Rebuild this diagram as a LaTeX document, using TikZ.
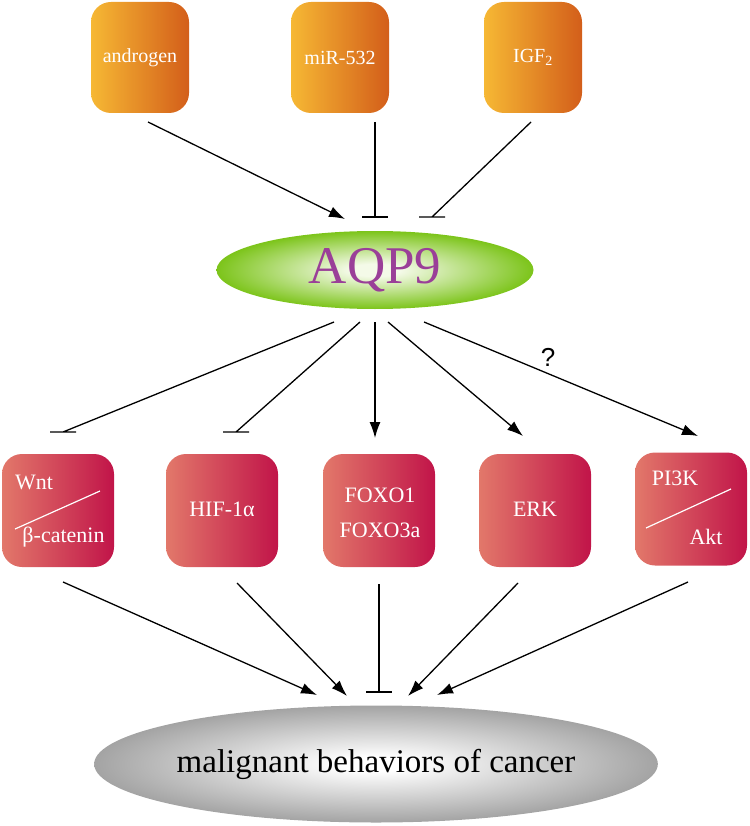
\documentclass[tikz,border=0pt]{standalone}
\usepackage{fontspec}
\setmainfont{Liberation Serif}
\newfontfamily\qfont{Liberation Sans}
\usepackage{tikz}
\usetikzlibrary{arrows.meta,shapes.geometric}

\definecolor{srcleft}{HTML}{F6B834}
\definecolor{srcright}{HTML}{D35E1A}
\definecolor{sigleft}{HTML}{E2786A}
\definecolor{sigright}{HTML}{C11449}
\definecolor{aqpin}{HTML}{F4FAE8}
\definecolor{aqpout}{HTML}{7CC41A}
\definecolor{aqptext}{HTML}{9A3F98}
\definecolor{cancout}{HTML}{7E7E7E}

\pgfdeclareradialshading{aqpglow}{\pgfpoint{0bp}{0bp}}{color(0bp)=(aqpin); color(4bp)=(aqpin); color(25bp)=(aqpout); color(50bp)=(aqpout)}
\pgfdeclareradialshading{cancglow}{\pgfpoint{0bp}{0bp}}{color(0bp)=(white); color(3bp)=(white); color(34bp)=(cancout); color(50bp)=(cancout)}

\tikzset{
  srcbox/.style={rounded corners=20pt, minimum width=98pt, minimum height=111pt,
    left color=srcleft, right color=srcright, draw=none},
  sigbox/.style={rounded corners=20pt, minimum width=112pt, minimum height=113pt,
    left color=sigleft, right color=sigright, draw=none},
  srctxt/.style={text=white, font=\fontsize{20}{24}\selectfont, inner sep=0pt},
  sigtxt/.style={text=white, font=\fontsize{22}{26}\selectfont, inner sep=0pt},
  act/.style={-{Latex[length=16pt,width=11pt]}, line width=1.3pt},
  inh/.style={line width=1.3pt},
}

\begin{document}
\begin{tikzpicture}[x=1pt,y=-1pt]
\useasboundingbox (0,0) rectangle (749,826);

% top row
\node[srcbox] (andro) at (140,57.5) {};
\node[srcbox] (mir) at (340,57.5) {};
\node[srcbox] (igf) at (533,57.5) {};
\node[srctxt] (androtxt) at (140,57.5) {androgen};
\node[srctxt] (mirtxt) at (340,57.5) {miR-532};
\node[srctxt] (igftxt) at (533,57.5) {IGF\textsubscript{2}};

% AQP9
\node[ellipse, minimum width=317pt, minimum height=78pt, shading=aqpglow,
  text=aqptext, font=\fontsize{53}{60}\selectfont, inner sep=0pt] (aqp) at (375,270) {AQP9};

% middle row
\node[sigbox] (wnt) at (58,510.5) {};
\node[sigbox] (hif) at (222,510.5) {};
\node[sigbox] (foxo) at (379,510.5) {};
\node[sigbox] (erk) at (535,510.5) {};
\node[sigbox] (pik) at (691,509) {};
\node[sigtxt] (wnttxt) at (34,482) {Wnt};
\node[sigtxt] (catxt) at (63.5,537) {β-catenin};
\draw[white, line width=1.2pt] (15,529) -- (100,491);
\node[sigtxt] (hiftxt) at (222,509) {HIF-1α};
\node[sigtxt] (foxotxt) at (380,495) {FOXO1};
\node[sigtxt] (foxotxtb) at (380,530) {FOXO3a};
\node[sigtxt] (erktxt) at (535,509) {ERK};
\node[sigtxt] (piktxt) at (675,478) {PI3K};
\node[sigtxt] (akttxt) at (706,537) {Akt};
\draw[white, line width=1.2pt] (646,528) -- (731,489);

% cancer
\node[ellipse, minimum width=482pt, minimum height=117pt, shading=cancglow,
  font=\fontsize{33}{40}\selectfont, inner sep=0pt] (canc) at (376,764) {malignant behaviors of cancer};

% connector ends
\coordinate (andro-o) at (148,122);
\coordinate (mir-o) at (375,122);
\coordinate (igf-o) at (531,122);
\coordinate (aqp-i1) at (345,219);
\coordinate (aqp-i2) at (375,217);
\coordinate (aqp-i3) at (432,217);
\coordinate (aqp-o1) at (334,322);
\coordinate (aqp-o2) at (360,322);
\coordinate (aqp-o3) at (375,322);
\coordinate (aqp-o4) at (388,322);
\coordinate (aqp-o5) at (424,322);
\coordinate (wnt-i) at (63,432);
\coordinate (hif-i) at (236,432);
\coordinate (foxo-i) at (375,438);
\coordinate (erk-i) at (523,436);
\coordinate (pik-i) at (698,436);
\coordinate (wnt-o) at (63,582);
\coordinate (hif-o) at (237,583);
\coordinate (foxo-o) at (379,584);
\coordinate (erk-o) at (518,583);
\coordinate (pik-o) at (688,582);
\coordinate (canc-i1) at (317,695);
\coordinate (canc-i2) at (347,696);
\coordinate (canc-i3) at (379,692);
\coordinate (canc-i4) at (408,696);
\coordinate (canc-i5) at (437,695);

\draw[act] (andro-o) -- (aqp-i1);
\draw[inh] (mir-o) -- (aqp-i2) ++(-13,0) -- ++(26,0);
\draw[inh] (igf-o) -- (aqp-i3) ++(-13,0) -- ++(26,0);

\draw[inh] (aqp-o1) -- (wnt-i) ++(-13,0) -- ++(26,0);
\draw[inh] (aqp-o2) -- (hif-i) ++(-13,0) -- ++(26,0);
\draw[act] (aqp-o3) -- (foxo-i);
\draw[act] (aqp-o4) -- (erk-i);
\draw[act] (aqp-o5) -- (pik-i);
\node[font=\qfont\fontsize{26}{30}\selectfont, inner sep=0pt] (qmark) at (548,357) {?};

\draw[act] (wnt-o) -- (canc-i1);
\draw[act] (hif-o) -- (canc-i2);
\draw[inh] (foxo-o) -- (canc-i3) ++(-13,0) -- ++(26,0);
\draw[act] (erk-o) -- (canc-i4);
\draw[act] (pik-o) -- (canc-i5);
\end{tikzpicture}
\end{document}
